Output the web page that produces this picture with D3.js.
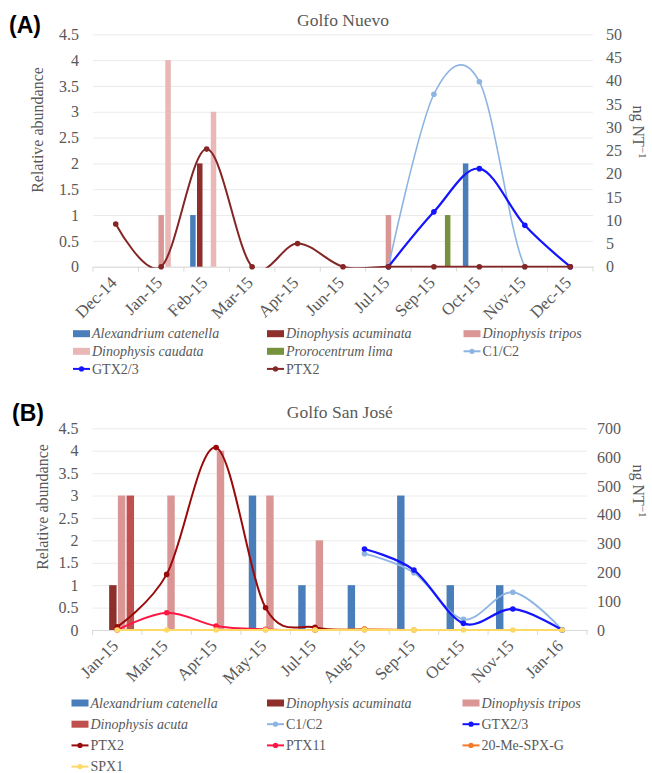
<!DOCTYPE html>
<html>
<head>
<meta charset="utf-8">
<script src="https://cdn.jsdelivr.net/npm/d3@7"></script>
<style>
  body { margin: 0; background: #fff; }
  text { font-family: "Liberation Serif", "Times New Roman", serif; fill: #595959; }
</style>
</head>
<body>
<script>
let w = 652;
let h = 773;

// (A) Golfo Nuevo
let monthsA = ["Dec-14", "Jan-15", "Feb-15", "Mar-15", "Apr-15", "Jun-15", "Jul-15", "Sep-15", "Oct-15", "Nov-15", "Dec-15"];
let catenellaA = [0, 0, 1, 0, 0, 0, 0, 0, 2, 0, 0];
let acuminataA = [0, 0, 2, 0, 0, 0, 0, 0, 0, 0, 0];
let triposA = [0, 1, 0, 0, 0, 0, 1, 0, 0, 0, 0];
let caudataA = [0, 4, 3, 0, 0, 0, 0, 0, 0, 0, 0];
let limaA = [0, 0, 0, 0, 0, 0, 0, 1, 0, 0, 0];
let c1c2A = [null, null, null, null, null, null, 0, 37.1, 39.8, 0, 0];
let gtxA = [null, null, null, null, null, null, 0, 11.8, 21.1, 8.9, 0];
let ptx2A = [9.2, 0, 25.3, 0, 5, 0, 0, 0, 0, 0, 0];
let rightTicksA = [0, 5, 10, 15, 20, 25, 30, 35, 40, 45, 50];

// (B) Golfo San José
let monthsB = ["Jan-15", "Mar-15", "Apr-15", "May-15", "Jul-15", "Aug-15", "Sep-15", "Oct-15", "Nov-15", "Jan-16"];
let catenellaB = [0, 0, 0, 3, 1, 1, 3, 1, 1, 0];
let acuminataB = [1, 0, 0, 0, 0, 0, 0, 0, 0, 0];
let triposB = [3, 3, 4, 3, 2, 0, 0, 0, 0, 0];
let acutaB = [3, 0, 0, 0, 0, 0, 0, 0, 0, 0];
let c1c2B = [null, null, null, null, null, 265, 199, 37, 131, 0];
let gtxB = [null, null, null, null, null, 281, 208, 23, 73, 0];
let ptx2B = [11, 193, 633, 77, 9, 2, null, null, null, null];
let ptx11B = [0, 60, 14, 2, 0, null, null, null, null, null];
let spxgB = [null, null, null, null, 0, 3, 0, null, null, null];
let spx1B = [0, 0, 0, 0, 0, 0, 0, 0, 0, 0];
let rightTicksB = [0, 100, 200, 300, 400, 500, 600, 700];

let leftTicks = [0, 0.5, 1, 1.5, 2, 2.5, 3, 3.5, 4, 4.5];

let svg = d3.select("body").append("svg").attr("width", w).attr("height", h);

function drawPanel(p) {
  let x = d3
    .scaleBand()
    .domain(p.months)
    .range([p.left, p.right])
    .paddingInner(p.gap)
    .paddingOuter(p.gap / 2);
  let yL = d3.scaleLinear().domain([0, 4.5]).range([p.bottom, p.top]);
  let yR = d3.scaleLinear().domain([0, d3.max(p.rightTicks)]).range([p.bottom, p.top]);
  let inner = d3
    .scaleBand()
    .domain(p.bars.map((d) => d.name))
    .range([0, x.bandwidth()])
    .paddingInner(p.barPad);
  let cx = (m) => x(m) + x.bandwidth() / 2;

  // panel letter + title
  svg
    .append("text")
    .attr("x", p.letterX)
    .attr("y", p.letterY)
    .style("font-family", "'Liberation Sans', Arial, sans-serif")
    .style("font-weight", "bold")
    .style("font-size", "23px")
    .style("fill", "#000")
    .text(p.letter);

  svg
    .append("text")
    .attr("x", (p.left + p.right) / 2)
    .attr("y", p.titleY)
    .attr("text-anchor", "middle")
    .style("font-size", "17.5px")
    .text(p.title);

  // gridlines and left labels
  let gl = svg
    .append("g")
    .attr("transform", "translate(" + p.left + ",0)")
    .call(
      d3.axisLeft(yL)
        .tickValues(leftTicks)
        .tickSize(-(p.right - p.left))
        .tickPadding(14)
        .tickFormat((d) => String(d))
    );
  gl.select(".domain").remove();
  gl.selectAll("line").attr("stroke", "#ebebeb");
  gl.selectAll("text").style("font-size", "16px");

  // right labels
  let gr = svg
    .append("g")
    .attr("transform", "translate(" + p.right + ",0)")
    .call(d3.axisRight(yR).tickValues(p.rightTicks).tickSize(0).tickPadding(p.rPad));
  gr.select(".domain").remove();
  gr.selectAll("text").style("font-size", "16px");

  // x axis
  let gx = svg
    .append("g")
    .attr("transform", "translate(0," + p.bottom + ")")
    .call(d3.axisBottom(x).tickSize(0).tickSizeOuter(0));
  gx.select(".domain").attr("stroke", "#d9d9d9");
  gx.selectAll("text")
    .attr("y", 0)
    .attr("dy", 0)
    .attr("text-anchor", "end")
    .attr("transform", "translate(2,17) rotate(-45)")
    .style("font-size", "17px");
  gx.selectAll(".sep")
    .data(d3.range(p.months.length + 1))
    .join("line")
    .attr("class", "sep")
    .attr("x1", (i) => p.left + i * x.step())
    .attr("x2", (i) => p.left + i * x.step())
    .attr("y1", 0)
    .attr("y2", 5)
    .attr("stroke", "#d9d9d9");

  // axis titles
  svg
    .append("text")
    .attr("transform", "translate(" + p.yTitleX + "," + p.yTitleY + ") rotate(-90)")
    .attr("text-anchor", "middle")
    .style("font-size", "16px")
    .text("Relative abundance");

  let rt = svg
    .append("text")
    .attr("transform", "translate(" + p.rTitleX + "," + p.rTitleY + ") rotate(90)")
    .attr("text-anchor", "middle")
    .style("font-size", "16px");
  rt.append("tspan").text("ng NT");
  rt.append("tspan").attr("dy", -6).style("font-size", "11px").text("\u22121");

  // bars
  p.bars.forEach((s) => {
    svg
      .append("g")
      .selectAll("rect")
      .data(p.months.map((m, i) => ({ m: m, v: s.values[i] })).filter((d) => d.v > 0))
      .join("rect")
      .attr("x", (d) => x(d.m) + inner(s.name))
      .attr("y", (d) => yL(d.v))
      .attr("width", inner.bandwidth())
      .attr("height", (d) => yL(0) - yL(d.v))
      .attr("fill", s.color);
  });

  // toxin lines
  let clipId = "clip" + p.letter.replace(/\W/g, "");
  svg
    .append("clipPath")
    .attr("id", clipId)
    .append("rect")
    .attr("x", p.left)
    .attr("y", p.top)
    .attr("width", p.right - p.left)
    .attr("height", p.bottom - p.top + 1);

  p.lines.forEach((s) => {
    let pts = p.months.map((m, i) => ({ m: m, v: s.values[i] }));
    let line = d3
      .line()
      .defined((d) => d.v != null)
      .x((d) => cx(d.m))
      .y((d) => yR(d.v))
      .curve(d3.curveCardinal.tension(0));
    svg
      .append("path")
      .attr("d", line(pts))
      .attr("fill", "none")
      .attr("stroke", s.color)
      .attr("stroke-width", s.width)
      .attr("clip-path", "url(#" + clipId + ")");
    svg
      .append("g")
      .selectAll("circle")
      .data(pts.filter((d) => d.v != null))
      .join("circle")
      .attr("cx", (d) => cx(d.m))
      .attr("cy", (d) => yR(d.v))
      .attr("r", 2.8)
      .attr("fill", s.color);
  });

  // legend
  let items = p.bars.map((d) => ({ ...d, kind: "bar" })).concat(p.lines.map((d) => ({ ...d, kind: "line" })));
  items.forEach((d, i) => {
    let lx = p.legendX[i % 3];
    let ly = p.legendY + Math.floor(i / 3) * p.legendDy;
    let g = svg.append("g").attr("transform", "translate(" + lx + "," + ly + ")");
    if (d.kind == "bar") {
      g.append("rect").attr("x", 0).attr("y", -3.5).attr("width", 17).attr("height", 7).attr("fill", d.color);
    } else {
      g.append("line").attr("x1", 0).attr("x2", 17).attr("y1", 0).attr("y2", 0).attr("stroke", d.color).attr("stroke-width", 2);
      g.append("circle").attr("cx", 8.5).attr("cy", 0).attr("r", 2.6).attr("fill", d.color);
    }
    g.append("text")
      .attr("x", 19)
      .attr("y", 0)
      .attr("dy", "0.33em")
      .style("font-size", "14px")
      .style("font-style", d.italic ? "italic" : "normal")
      .text(d.name);
  });
}

drawPanel({
  letter: "(A)",
  letterX: 9,
  letterY: 33,
  title: "Golfo Nuevo",
  titleY: 26,
  months: monthsA,
  left: 93,
  right: 593,
  top: 34.3,
  bottom: 266.7,
  gap: 0.274,
  barPad: 0.2,
  rightTicks: rightTicksA,
  rPad: 13,
  yTitleX: 43,
  yTitleY: 130,
  rTitleX: 633,
  rTitleY: 132,
  bars: [
    { name: "Alexandrium catenella", values: catenellaA, color: "#4a7ebb", italic: true },
    { name: "Dinophysis acuminata", values: acuminataA, color: "#8e2f2c", italic: true },
    { name: "Dinophysis tripos", values: triposA, color: "#d99694", italic: true },
    { name: "Dinophysis caudata", values: caudataA, color: "#e9b7b6", italic: true },
    { name: "Prorocentrum lima", values: limaA, color: "#76923c", italic: true },
  ],
  lines: [
    { name: "C1/C2", values: c1c2A, color: "#8db4e2", width: 1.6 },
    { name: "GTX2/3", values: gtxA, color: "#1414ff", width: 2.2 },
    { name: "PTX2", values: ptx2A, color: "#842626", width: 2 },
  ],
  legendX: [73, 267, 463.5],
  legendY: 333.7,
  legendDy: 17.6,
});

drawPanel({
  letter: "(B)",
  letterX: 12,
  letterY: 421,
  title: "Golfo San José",
  titleY: 418,
  months: monthsB,
  left: 92.5,
  right: 587,
  top: 428.3,
  bottom: 630,
  gap: 0.32,
  barPad: 0.15,
  rightTicks: rightTicksB,
  rPad: 10,
  yTitleX: 48,
  yTitleY: 507,
  rTitleX: 633,
  rTitleY: 491,
  bars: [
    { name: "Alexandrium catenella", values: catenellaB, color: "#4a7ebb", italic: true },
    { name: "Dinophysis acuminata", values: acuminataB, color: "#8e2f2c", italic: true },
    { name: "Dinophysis tripos", values: triposB, color: "#d99694", italic: true },
    { name: "Dinophysis acuta", values: acutaB, color: "#c0504d", italic: true },
  ],
  lines: [
    { name: "C1/C2", values: c1c2B, color: "#8db4e2", width: 1.8 },
    { name: "GTX2/3", values: gtxB, color: "#1414ff", width: 2.2 },
    { name: "PTX2", values: ptx2B, color: "#990a0a", width: 2 },
    { name: "PTX11", values: ptx11B, color: "#ff1744", width: 2 },
    { name: "20-Me-SPX-G", values: spxgB, color: "#f47a2a", width: 2 },
    { name: "SPX1", values: spx1B, color: "#ffd966", width: 2 },
  ],
  legendX: [71.5, 267, 462.5],
  legendY: 703,
  legendDy: 21.2,
});
</script>
</body>
</html>
